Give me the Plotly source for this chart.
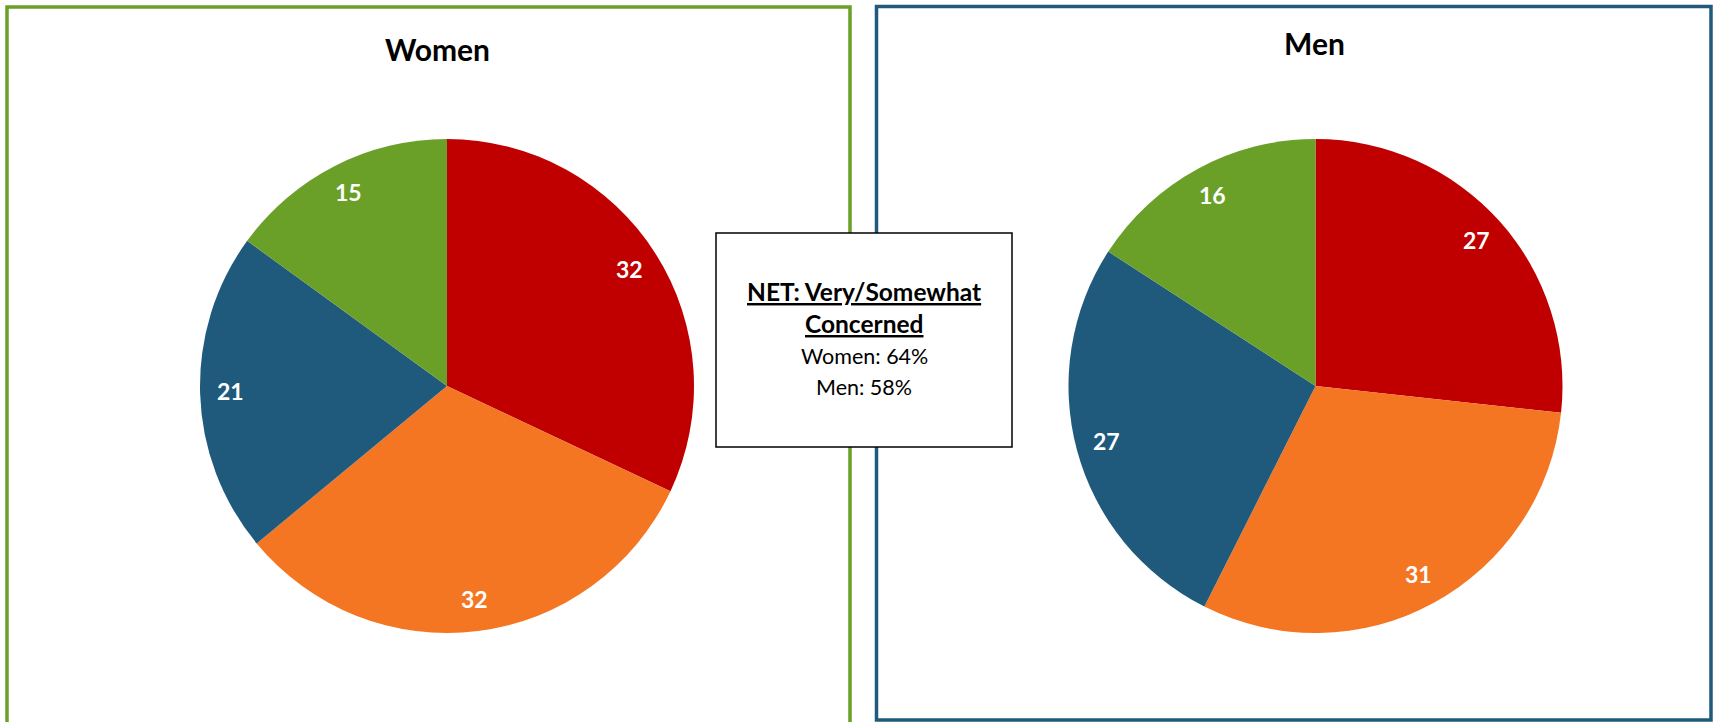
import math
import plotly.graph_objects as go

# ---- data ----
categories = ["Very concerned", "Somewhat concerned", "Not too concerned", "Not at all concerned"]
women_values = [32, 32, 21, 15]
men_values = [27, 31, 27, 16]
colors = ["#C00000", "#F47623", "#1F5A7D", "#6A9F28"]
panel_titles = ["Women", "Men"]
net_title = "NET: Very/Somewhat<br>Concerned"
net_lines = ["Women: 64%", "Men: 58%"]

W, H = 1716, 722
FONT = "Lato"


def px(x):
    return x / W


def py(y):
    return 1 - y / H


R = 247
centers = [(447, 386), (1315.5, 386)]

fig = go.Figure()
for (cx, cy), vals in zip(centers, [women_values, men_values]):
    fig.add_trace(go.Pie(
        labels=categories, values=vals, sort=False, direction="clockwise", rotation=0,
        marker=dict(colors=colors, line=dict(width=0)), textinfo="none", hoverinfo="label+value",
        domain=dict(x=[px(cx - R), px(cx + R)], y=[py(cy + R), py(cy - R)]),
        showlegend=False,
    ))

annotations = []
# data labels placed along each slice's mid-angle
for (cx, cy), vals in zip(centers, [women_values, men_values]):
    total = sum(vals)
    cum = 0
    for v in vals:
        theta = 2 * math.pi * (cum + v / 2) / total
        cum += v
        x = cx + 0.875 * R * math.sin(theta)
        y = cy - 0.875 * R * math.cos(theta) - 1.5
        annotations.append(dict(x=px(x), y=py(y), xref="paper", yref="paper", text=f"<b>{v}</b>",
                                showarrow=False, font=dict(family=FONT, size=23, color="white"),
                                xanchor="center", yanchor="middle"))

# titles
for t, (tx, ty) in zip(panel_titles, [(437, 49), (1314, 43)]):
    annotations.append(dict(x=px(tx), y=py(ty), xref="paper", yref="paper", text=f"<b>{t}</b>",
                            showarrow=False, font=dict(family=FONT, size=30, color="black"),
                            xanchor="center", yanchor="middle"))

# center box text
box_cx = 864
bold_lines = net_title.split("<br>")
for line, ly in zip(bold_lines, [291, 324]):
    annotations.append(dict(x=px(box_cx), y=py(ly), xref="paper", yref="paper", text=f"<b><u>{line}</u></b>",
                            showarrow=False, font=dict(family=FONT, size=24.5, color="black"),
                            xanchor="center", yanchor="middle"))
for line, ly in zip(net_lines, [356, 387]):
    annotations.append(dict(x=px(box_cx), y=py(ly), xref="paper", yref="paper", text=line,
                            showarrow=False, font=dict(family=FONT, size=21.5, color="black"),
                            xanchor="center", yanchor="middle"))

shapes = [
    dict(type="rect", xref="paper", yref="paper", x0=px(7), x1=px(850), y0=py(7), y1=py(760),
         line=dict(color="#6A9F28", width=3.5), fillcolor="rgba(0,0,0,0)", layer="below"),
    dict(type="rect", xref="paper", yref="paper", x0=px(876.5), x1=px(1711), y0=py(6.5), y1=py(720),
         line=dict(color="#1F5A7D", width=3.5), fillcolor="rgba(0,0,0,0)", layer="below"),
    dict(type="rect", xref="paper", yref="paper", x0=px(716), x1=px(1012), y0=py(233), y1=py(447),
         line=dict(color="black", width=1.5), fillcolor="white", layer="above"),
]

fig.update_layout(
    width=W, height=H, margin=dict(l=0, r=0, t=0, b=0),
    paper_bgcolor="white", plot_bgcolor="white",
    annotations=annotations, shapes=shapes, showlegend=False,
    font=dict(family=FONT),
)
fig.write_html("out.html", config={"displayModeBar": False},
               post_script="document.body.style.margin='0';document.body.style.overflow='hidden';")
